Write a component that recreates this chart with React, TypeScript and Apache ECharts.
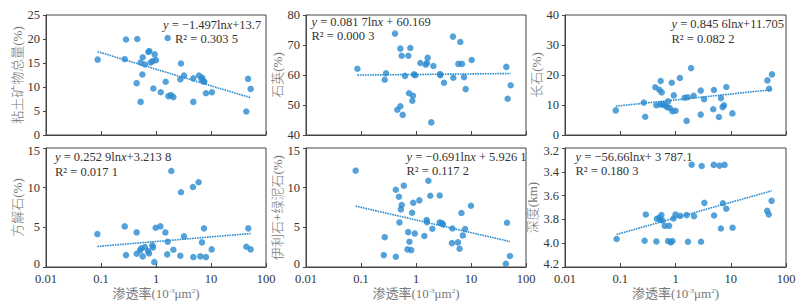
import React, { useEffect, useRef } from "react";
import * as echarts from "echarts";

// ---------- data (permeability in 10^-3 μm²) ----------
const clayX = [0.087, 0.27, 0.285, 0.445, 0.457, 0.526, 0.526, 0.565, 0.573, 0.63, 0.726, 0.756, 0.8, 0.87, 0.895, 0.946, 1.0, 1.22, 1.5, 1.63, 1.68, 1.87, 2.07, 2.77, 2.85, 3.23, 4.77, 4.77, 6.05, 6.76, 6.95, 7.26, 7.57, 8.11, 10.4, 43.9, 47.1, 52.6];
const clayY = [15.7, 15.8, 19.9, 10.8, 20.0, 6.9, 15.1, 12.6, 16.2, 14.7, 17.3, 17.5, 15.1, 15.4, 9.7, 16.8, 15.6, 8.9, 11.1, 20.2, 8.1, 8.3, 7.9, 11.6, 14.9, 12.4, 6.9, 11.8, 12.4, 11.6, 11.9, 11.2, 11.1, 8.7, 8.9, 4.9, 11.7, 9.6];

const quartzX = [0.086, 0.27, 0.285, 0.415, 0.457, 0.519, 0.519, 0.549, 0.573, 0.63, 0.726, 0.746, 0.789, 0.858, 0.882, 0.92, 0.97, 1.2, 1.5, 1.58, 1.63, 1.9, 2.07, 2.73, 2.77, 3.23, 4.7, 4.77, 5.9, 6.4, 6.86, 7.47, 8.0, 10.3, 43.9, 46.4, 52.6];
const quartzY = [62.1, 58.4, 60.6, 73.8, 48.4, 49.6, 68.8, 66.4, 46.7, 59.7, 66.4, 53.9, 69.0, 51.4, 53.1, 60.2, 59.9, 64.0, 63.4, 64.0, 65.7, 44.2, 63.0, 60.3, 59.9, 57.4, 72.8, 59.1, 63.7, 71.0, 63.7, 59.3, 55.3, 65.0, 62.7, 52.1, 56.6];

const feldsparX = [0.083, 0.267, 0.283, 0.431, 0.449, 0.51, 0.532, 0.539, 0.562, 0.586, 0.638, 0.704, 0.734, 0.788, 0.857, 0.881, 0.932, 1.0, 1.2, 1.46, 1.59, 1.66, 1.91, 2.13, 2.86, 2.86, 3.3, 4.82, 4.96, 6.12, 6.65, 7.13, 7.55, 8.33, 10.7, 46.1, 49.5, 55.7];
const feldsparY = [8.2, 10.8, 6.1, 15.9, 9.9, 15.1, 10.2, 18.0, 14.2, 10.2, 9.9, 9.3, 11.2, 9.0, 17.4, 7.9, 13.2, 8.1, 19.0, 12.4, 4.7, 12.6, 22.3, 13.1, 14.8, 6.8, 11.9, 8.6, 15.0, 6.0, 12.3, 9.3, 9.9, 16.0, 7.2, 18.2, 15.4, 20.2];

const calciteX = [0.086, 0.27, 0.285, 0.445, 0.445, 0.512, 0.541, 0.573, 0.63, 0.715, 0.746, 0.858, 0.882, 0.932, 0.986, 1.2, 1.48, 1.6, 1.63, 1.9, 2.07, 2.77, 2.85, 3.23, 4.7, 4.77, 5.95, 6.4, 6.86, 7.47, 8.1, 10.3, 43.9, 47.7, 52.6];
const calciteY = [4.15, 5.12, 1.5, 4.36, 1.67, 2.09, 2.35, 1.34, 2.51, 2.01, 1.72, 2.72, 2.47, 0.62, 4.95, 5.12, 4.36, 1.59, 3.19, 12.1, 2.18, 1.42, 9.42, 3.86, 10.09, 1.25, 10.68, 1.34, 3.1, 4.87, 1.25, 2.22, 2.55, 4.87, 2.22];

const illiteX = [0.08, 0.26, 0.27, 0.43, 0.43, 0.49, 0.5, 0.53, 0.55, 0.6, 0.7, 0.72, 0.76, 0.82, 0.85, 0.89, 0.95, 1.15, 1.42, 1.56, 1.58, 1.68, 1.82, 1.98, 2.7, 2.7, 2.97, 3.1, 4.5, 4.6, 5.8, 6.2, 6.7, 7.1, 7.8, 10.0, 43.0, 45.2, 51.0];
const illiteY = [12.14, 1.5, 3.76, 9.74, 1.29, 8.86, 5.62, 7.26, 7.81, 10.25, 2.22, 4.4, 3.18, 2.13, 6.84, 8.1, 4.23, 8.4, 3.9, 5.92, 5.66, 10.87, 8.98, 4.82, 9.02, 5.62, 5.5, 5.37, 3.01, 4.86, 3.1, 2.3, 6.8, 3.98, 4.78, 7.72, 0.41, 5.58, 1.38];

const depthX = [0.086, 0.276, 0.29, 0.45, 0.46, 0.51, 0.53, 0.556, 0.58, 0.64, 0.735, 0.767, 0.822, 0.88, 0.92, 1.0, 1.22, 1.59, 1.68, 1.96, 2.16, 2.9, 2.98, 3.33, 4.93, 4.99, 6.25, 6.63, 7.2, 7.72, 8.3, 10.8, 45.6, 48.8, 54.8];
const depthY = [3.965, 3.979, 3.759, 3.985, 3.795, 3.787, 3.803, 3.764, 3.809, 3.854, 3.982, 3.854, 3.993, 3.982, 3.792, 3.759, 3.77, 3.764, 3.988, 3.34, 3.773, 3.988, 3.351, 3.661, 3.342, 3.767, 3.348, 3.876, 3.664, 3.342, 3.711, 3.87, 3.728, 3.759, 3.644];

// trend equations  y = a·ln(x) + b  as printed on the chart
const trendA = [-1.497, 0.0817, 0.8456, 0.2529, -0.691, -56.66];
const trendB = [13.7, 60.169, 11.705, 3.2138, 5.9261, 3787.1];
const trendScale = [1, 1, 1, 1, 1, 0.001];

const eqLine1 = [
  "{i|y} = −1.497ln{i|x}+13.7",
  "{i|y} = 0.081 7ln{i|x} + 60.169",
  "{i|y} = 0.845 6ln{i|x}+11.705",
  "{i|y} = 0.252 9ln{i|x}+3.213 8",
  "{i|y} = −0.691ln{i|x} + 5.926 1",
  "{i|y} = −56.66ln{i|x}+ 3 787.1",
];
const eqLine2 = ["R² = 0.303 5", "R² = 0.000 3", "R² = 0.082 2", "R² = 0.017 1", "R² = 0.117 2", "R² = 0.180 3"];

const yNames = ["粘土矿物总量(%)", "石英(%)", "长石(%)", "方解石(%)", "伊利石+绿泥石(%)", "深度(km)"];
const yMin = [0, 40, 0, 0, 0, 3.2];
const yMax = [25, 80, 40, 15, 15, 4.2];
const yStep = [5, 10, 10, 5, 5, 0.2];

// ---------- layout ----------
const GRIDS = [
  { left: 46, top: 15, width: 220, height: 120 },
  { left: 306, top: 15, width: 220, height: 120 },
  { left: 565, top: 15, width: 221, height: 120 },
  { left: 46, top: 148, width: 220, height: 119 },
  { left: 306, top: 148, width: 220, height: 119 },
  { left: 565, top: 148, width: 221, height: 119 },
];
const NAME_GAP = [16, 16.5, 17.5, 18, 17.5, 21];
const EQ_POS = [
  [[163, 25], [175, 38.5]],
  [[311.5, 22.3], [311.5, 35.7]],
  [[671.5, 24.3], [671.5, 39]],
  [[55, 156.7], [55, 172]],
  [[406.5, 157.3], [406.5, 170.7]],
  [[575.5, 157.3], [575.5, 170.7]],
];

const SERIF = "'Liberation Serif', 'Times New Roman', 'DejaVu Serif', serif";
const CJK = "'Liberation Serif', 'Noto Sans CJK SC', serif";
const BLUE = "#2b8bd0";
const AXIS = "#444";
const TXT = "#333";
const NAME_COLOR = "#777";

const xsAll = [clayX, quartzX, feldsparX, calciteX, illiteX, depthX];
const ysAll = [clayY, quartzY, feldsparY, calciteY, illiteY, depthY];

function fmtNum(v: number) {
  return String(parseFloat(Number(v).toPrecision(6)));
}

function buildOption() {
  const grid: any[] = [];
  const xAxis: any[] = [];
  const yAxis: any[] = [];
  const series: any[] = [];
  const graphic: any[] = [];

  for (let i = 0; i < 6; i++) {
    const g = GRIDS[i];
    const bottomRow = i >= 3;
    grid.push({ ...g, show: true, borderColor: AXIS, borderWidth: 1, backgroundColor: "transparent" });
    xAxis.push({
      type: "log",
      logBase: 10,
      gridIndex: i,
      min: 0.01,
      max: 100,
      axisLine: { show: true, lineStyle: { color: AXIS, width: 1 } },
      axisTick: { show: true, inside: true, length: 4, lineStyle: { color: AXIS } },
      splitLine: { show: false },
      axisLabel: {
        show: bottomRow,
        margin: 5,
        fontFamily: SERIF,
        fontSize: 12.5,
        color: TXT,
        formatter: (v: number) => fmtNum(v),
      },
      name: bottomRow ? "渗透率(10{sup|-3}μm{sup|2})" : "",
      nameLocation: "middle",
      nameGap: 20,
      nameTextStyle: {
        fontFamily: CJK,
        fontSize: 13,
        color: NAME_COLOR,
        rich: {
          sup: { fontSize: 7, fontFamily: SERIF, color: NAME_COLOR, verticalAlign: "top", lineHeight: 12 },
        },
      },
    });
    const lo = yMin[i];
    const hi = yMax[i];
    yAxis.push({
      type: "value",
      gridIndex: i,
      min: lo,
      max: hi,
      interval: yStep[i],
      inverse: i === 5,
      axisLine: { show: true, lineStyle: { color: AXIS, width: 1 } },
      axisTick: { show: true, inside: false, length: 3, lineStyle: { color: AXIS } },
      splitLine: { show: false },
      axisLabel: {
        margin: 6,
        fontFamily: SERIF,
        fontSize: 12.5,
        color: TXT,
        formatter: (v: number) => {
          const s = i === 5 ? Number(v).toFixed(1) : fmtNum(v);
          if (!bottomRow) return s;
          const atBottom = i === 5 ? Math.abs(v - hi) < 1e-6 : Math.abs(v - lo) < 1e-6;
          const atTop = i === 5 ? Math.abs(v - lo) < 1e-6 : Math.abs(v - hi) < 1e-6;
          if (atBottom) return "{up|" + s + "}";
          if (atTop) return "{down|" + s + "}";
          return s;
        },
        rich: {
          up: { fontFamily: SERIF, fontSize: 12.5, color: TXT, padding: [0, 0, 6, 0] },
          down: { fontFamily: SERIF, fontSize: 12.5, color: TXT, padding: [5, 0, 0, 0] },
        },
      },
      name: yNames[i],
      nameLocation: "middle",
      nameGap: NAME_GAP[i],
      nameTextStyle: { fontFamily: CJK, fontSize: 13, color: NAME_COLOR, fontWeight: 300 },
    });

    const xs = xsAll[i];
    const ys = ysAll[i];
    series.push({
      type: "scatter",
      xAxisIndex: i,
      yAxisIndex: i,
      symbol: "circle",
      symbolSize: 6.5,
      itemStyle: { color: BLUE },
      data: xs.map((x, k) => [x, ys[k]]),
      z: 2,
    });
    const x0 = Math.min(...xs);
    const x1 = Math.max(...xs);
    const f = (x: number) => (trendA[i] * Math.log(x) + trendB[i]) * trendScale[i];
    series.push({
      type: "line",
      xAxisIndex: i,
      yAxisIndex: i,
      symbol: "none",
      silent: true,
      lineStyle: { color: BLUE, width: 1.6, type: [1.6, 0.9] },
      data: [
        [x0, f(x0)],
        [x1, f(x1)],
      ],
      z: 3,
    });

    const rich = { i: { fontStyle: "italic", fontFamily: SERIF, fontSize: 12.5, fill: TXT } };
    graphic.push({
      type: "text",
      x: EQ_POS[i][0][0],
      y: EQ_POS[i][0][1],
      style: {
        text: eqLine1[i],
        rich,
        fontFamily: SERIF,
        fontSize: 12.5,
        fill: TXT,
        verticalAlign: "middle",
        align: "left",
      },
      z: 10,
    });
    graphic.push({
      type: "text",
      x: EQ_POS[i][1][0],
      y: EQ_POS[i][1][1],
      style: {
        text: eqLine2[i],
        fontFamily: SERIF,
        fontSize: 12.5,
        fill: TXT,
        verticalAlign: "middle",
        align: "left",
      },
      z: 10,
    });
  }

  return {
    animation: false,
    backgroundColor: "#ffffff",
    grid,
    xAxis,
    yAxis,
    series,
    graphic,
  };
}

export default function App() {
  const ref = useRef<HTMLDivElement>(null);
  useEffect(() => {
    if (!ref.current) return;
    const chart = echarts.init(ref.current, undefined, { renderer: "svg" });
    chart.setOption(buildOption() as any);
    return () => chart.dispose();
  }, []);
  return (
    <div
      ref={ref}
      style={{ position: "absolute", left: 0, top: 0, width: 808, height: 308, background: "#fff" }}
    />
  );
}
